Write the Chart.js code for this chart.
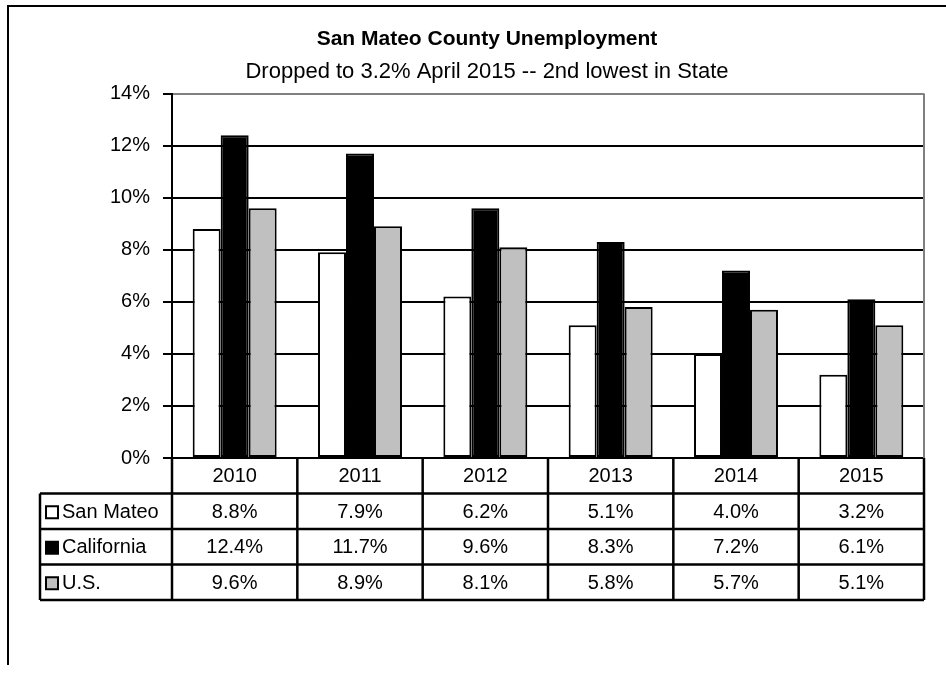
<!DOCTYPE html>
<html>
<head>
<meta charset="utf-8">
<script src="https://cdn.jsdelivr.net/npm/chart.js@4.4.1/dist/chart.umd.min.js"></script>
<style>
  html, body { margin: 0; padding: 0; background: #fff; }
  #wrap { width: 946px; height: 673px; position: relative; }
</style>
</head>
<body>
<div id="wrap"><canvas id="myChart" width="946" height="673"></canvas></div>
<script>
// chart data
const years = ['2010', '2011', '2012', '2013', '2014', '2015'];
const sanMateo = [8.8, 7.9, 6.2, 5.1, 4.0, 3.2];
const california = [12.4, 11.7, 9.6, 8.3, 7.2, 6.1];
const usRate = [9.6, 8.9, 8.1, 5.8, 5.7, 5.1];
const seriesNames = ['San Mateo', 'California', 'U.S.'];
const seriesColors = ['#ffffff', '#000000', '#c0c0c0'];

const fontFamily = '"Liberation Sans", Arial, sans-serif';
const allSeries = [sanMateo, california, usRate];

// draws the outer frame, the plot border and the data table under the bars
const tablePlugin = {
    id: 'dataTable',
    afterDraw(chart) {
        const ctx = chart.ctx;
        const area = chart.chartArea;
        const xScale = chart.scales.x;
        const n = years.length;
        const colW = (area.right - area.left) / n;
        const rowH = 35.5;
        const top = area.bottom;
        const legendLeft = 40;

        ctx.save();
        // outer frame
        ctx.strokeStyle = '#000';
        ctx.lineWidth = 2;
        ctx.beginPath();
        ctx.moveTo(8, 665);
        ctx.lineTo(8, 6);
        ctx.lineTo(946, 6);
        ctx.stroke();

        // plot area right border
        ctx.strokeStyle = '#808080';
        ctx.beginPath();
        ctx.moveTo(area.right, area.top);
        ctx.lineTo(area.right, area.bottom);
        ctx.stroke();

        // table lines
        ctx.strokeStyle = '#000';
        ctx.lineWidth = 2.5;
        ctx.beginPath();
        for (let r = 1; r <= 4; r++) {
            ctx.moveTo(legendLeft, top + r * rowH);
            ctx.lineTo(area.right, top + r * rowH);
        }
        for (let i = 0; i <= n; i++) {
            ctx.moveTo(area.left + i * colW, top);
            ctx.lineTo(area.left + i * colW, top + 4 * rowH);
        }
        ctx.moveTo(legendLeft, top + rowH);
        ctx.lineTo(legendLeft, top + 4 * rowH);
        ctx.stroke();

        // texts
        ctx.fillStyle = '#000';
        ctx.font = '20px ' + fontFamily;
        ctx.textAlign = 'center';
        ctx.textBaseline = 'middle';
        years.forEach((y, i) => {
            ctx.fillText(y, xScale.getPixelForValue(i), top + rowH / 2 + 1);
        });
        allSeries.forEach((vals, s) => {
            const cy = top + (s + 1) * rowH + rowH / 2 + 1;
            ctx.textAlign = 'center';
            vals.forEach((v, i) => {
                ctx.fillText(v.toFixed(1) + '%', xScale.getPixelForValue(i), cy);
            });
            // legend key
            ctx.fillStyle = seriesColors[s];
            ctx.fillRect(46, cy - 6, 12, 12);
            ctx.lineWidth = 2;
            ctx.strokeRect(46, cy - 6, 12, 12);
            ctx.fillStyle = '#000';
            ctx.textAlign = 'left';
            ctx.fillText(seriesNames[s], 62, cy);
        });
        ctx.restore();
    }
};

const ctx = document.getElementById('myChart').getContext('2d');
const data = {
    labels: years,
    datasets: allSeries.map((vals, s) => ({
        label: seriesNames[s],
        data: vals,
        backgroundColor: seriesColors[s],
        borderColor: '#000',
        borderWidth: 2,
        borderSkipped: false
    }))
};
const config = {
    type: 'bar',
    data: data,
    options: {
        responsive: false,
        animation: false,
        layout: { padding: { left: 50, right: 22, top: 0, bottom: 0 } },
        datasets: {
            bar: { categoryPercentage: 0.67, barPercentage: 1.0 }
        },
        plugins: {
            legend: { display: false },
            tooltip: { enabled: false },
            title: {
                display: true,
                text: 'San Mateo County Unemployment',
                color: '#000',
                font: { family: fontFamily, size: 21, weight: 'bold' },
                padding: { top: 27, bottom: 7 }
            },
            subtitle: {
                display: true,
                text: 'Dropped to 3.2% April 2015 -- 2nd lowest in State',
                color: '#000',
                font: { family: fontFamily, size: 22 },
                padding: { top: 0, bottom: 8 }
            }
        },
        scales: {
            x: {
                grid: { display: false },
                border: { display: true, color: '#000', width: 2 },
                ticks: { display: false },
                afterFit(scale) { scale.height = 215; }
            },
            y: {
                min: 0,
                max: 14,
                ticks: {
                    stepSize: 2,
                    color: '#000',
                    padding: 13,
                    font: { family: fontFamily, size: 20 },
                    callback: v => v + '%'
                },
                grid: {
                    color: c => (c.tick && c.tick.value === 14) ? '#808080' : '#000',
                    tickColor: '#000',
                    lineWidth: 2,
                    tickLength: 9
                },
                border: { display: true, color: '#000', width: 2 },
                afterFit(scale) { scale.width = 122; }
            }
        }
    },
    plugins: [tablePlugin]
};
const myChart = new Chart(ctx, config);
</script>
</body>
</html>
